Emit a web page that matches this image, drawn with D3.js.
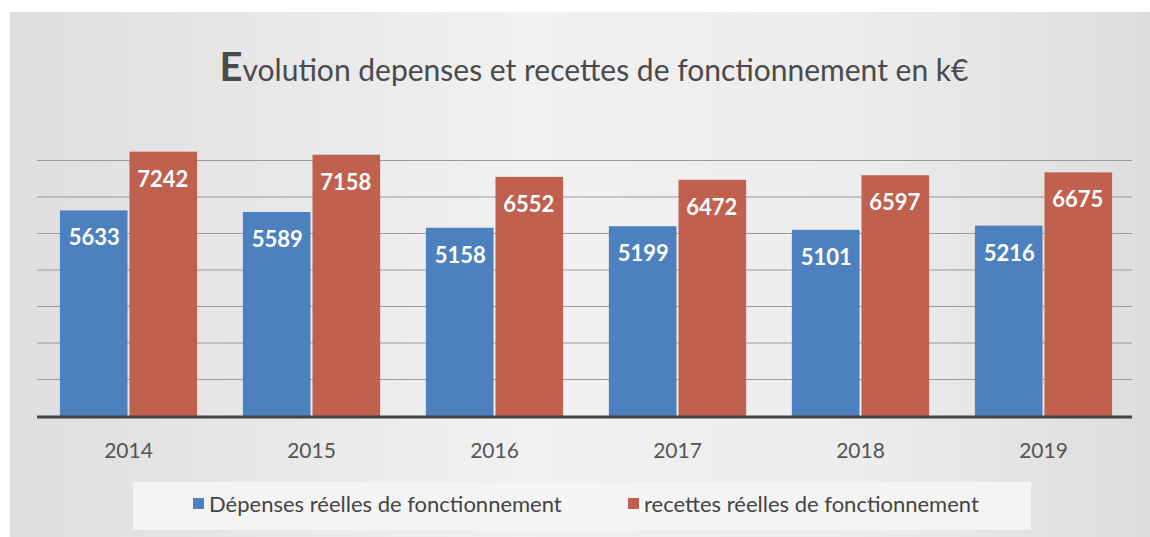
<!DOCTYPE html>
<html><head><meta charset="utf-8">
<script src="https://cdn.jsdelivr.net/npm/d3@7"></script>
<style>body{margin:0;background:#fff;}svg{display:block;}</style>
</head><body>
<svg id="c" width="1150" height="537"></svg>
<script>
const categories = ["2014","2015","2016","2017","2018","2019"];
const depenses = [5633,5589,5158,5199,5101,5216];
const recettes = [7242,7158,6552,6472,6597,6675];
const seriesNames = ["Dépenses réelles de fonctionnement","recettes réelles de fonctionnement"];
const gridTicks = [1000,2000,3000,4000,5000,6000,7000];
const titleFirst = "E";
const titleRest = "volution depenses et recettes de fonctionnement en k€";

const colors = ["#4d80bf","#c0604f"];
const svg = d3.select("#c");
const defs = svg.append("defs");
const g = defs.append("linearGradient").attr("id","bg").attr("x1","0").attr("x2","1");
g.append("stop").attr("offset","0").attr("stop-color","#dedede");
g.append("stop").attr("offset","0.45").attr("stop-color","#f1f1f1");
g.append("stop").attr("offset","0.75").attr("stop-color","#ececec");
g.append("stop").attr("offset","1").attr("stop-color","#dddddd");
svg.append("rect").attr("x",10).attr("y",12).attr("width",1140).attr("height",525).attr("fill","url(#bg)");

const x0 = d3.scaleBand().domain(categories).range([37,1135]).paddingInner(0.25).paddingOuter(0.125);
const x1 = d3.scaleBand().domain([0,1]).range([0,x0.bandwidth()]);
const y = d3.scaleLinear().domain([0,8000]).range([416,124]);

// gridlines
svg.append("g").selectAll("line").data(gridTicks).join("line")
  .attr("x1",37).attr("x2",1132).attr("y1",d=>y(d)).attr("y2",d=>y(d))
  .attr("stroke","#9a9a9a").attr("stroke-width",1.2);

const data = categories.map((c,i)=>({cat:c, vals:[depenses[i],recettes[i]]}));
const grp = svg.append("g").selectAll("g").data(data).join("g")
  .attr("transform",d=>`translate(${x0(d.cat)},0)`);
grp.selectAll("rect").data(d=>d.vals.map((v,k)=>({v,k}))).join("rect")
  .attr("x",d=>x1(d.k)+ (d.k===1?1:0)).attr("width",x1.bandwidth()-1)
  .attr("y",d=>y(d.v)).attr("height",d=>y(0)-y(d.v))
  .attr("fill",d=>colors[d.k]);
grp.selectAll("text").data(d=>d.vals.map((v,k)=>({v,k}))).join("text")
  .attr("x",d=>x1(d.k)+x1.bandwidth()/2).attr("y",d=>y(d.v)+35)
  .attr("text-anchor","middle").attr("fill","#fff")
  .attr("font-family","Lato, 'Open Sans', sans-serif").attr("font-weight","bold").attr("font-size",22)
  .text(d=>d.v);

// baseline
svg.append("line").attr("x1",37).attr("x2",1132).attr("y1",y(0)+1).attr("y2",y(0)+1)
  .attr("stroke","#444").attr("stroke-width",3);

// x axis labels
const xAxis = d3.axisBottom(x0).tickSize(0).tickPadding(0);
const ax = svg.append("g").attr("transform",`translate(0,${y(0)})`).call(xAxis);
ax.select(".domain").remove();
ax.selectAll("text").attr("y",42).attr("dy",0).attr("fill","#555")
  .attr("font-family","Lato, 'Open Sans', sans-serif").attr("font-size",21);

// title
const t = svg.append("text").attr("x",594).attr("y",81).attr("text-anchor","middle")
  .attr("fill","#4a4a4a").attr("font-family","Lato, 'Open Sans', sans-serif").attr("font-size",30);
t.append("tspan").attr("font-size",40).attr("font-weight","bold").text(titleFirst);
t.append("tspan").text(titleRest);

// legend
svg.append("rect").attr("x",133).attr("y",482).attr("width",898).attr("height",48).attr("fill","#f4f4f4");
const legX = [193,628];
const leg = svg.append("g").selectAll("g").data(seriesNames).join("g")
  .attr("transform",(d,i)=>`translate(${legX[i]},505)`);
leg.append("rect").attr("x",0).attr("y",-7).attr("width",11).attr("height",11).attr("fill",(d,i)=>colors[i]);
leg.append("text").attr("x",16).attr("y",7).attr("fill","#444")
  .attr("font-family","Lato, 'Open Sans', sans-serif").attr("font-size",22).text(d=>d);
</script>
</body></html>
